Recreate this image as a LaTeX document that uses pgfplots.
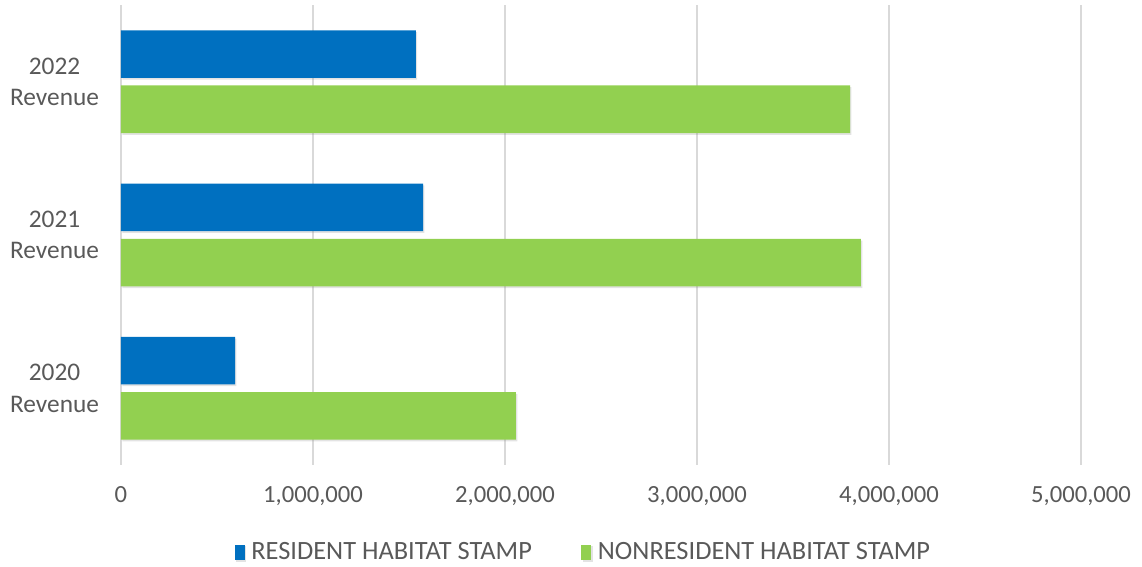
\documentclass[border=0pt]{standalone}
\usepackage{pgfplots}
\pgfplotsset{compat=1.18}
\usepackage{fontspec}
\setmainfont{Carlito}
\usetikzlibrary{shadows}
\definecolor{resblue}{HTML}{0070C0}
\definecolor{nrgreen}{HTML}{92D050}
\definecolor{gridgray}{HTML}{D9D9D9}
\definecolor{txtgray}{HTML}{595959}
\begin{document}
\begin{tikzpicture}
\useasboundingbox (-90.75pt,-76.5pt) rectangle (765.75pt,348.75pt);
\begin{axis}[
  at={(0pt,0pt)}, anchor=south west,
  scale only axis,
  width=720pt, height=345pt,
  xbar,
  xmin=0, xmax=5000000,
  ymin=-0.5, ymax=2.5,
  ytick={0,1,2},
  yticklabels={{2020\\Revenue},{2021\\Revenue},{2022\\Revenue}},
  yticklabel style={align=center, font=\fontsize{19}{23.5}\selectfont, text=txtgray, xshift=-13pt},
  xtick={0,1000000,2000000,3000000,4000000,5000000},
  scaled x ticks=false,
  xticklabel style={font=\fontsize{18.5}{22}\selectfont, text=txtgray, yshift=-12.5pt},
  /pgf/number format/.cd, fixed, 1000 sep={,}, assume math mode=true, /pgfplots/.cd,
  xmajorgrids,
  grid style={gridgray, line width=1.5pt},
  axis line style={draw=none},
  major tick length=0pt,
  bar width=0.31,
  legend style={at={(0.482,-0.19)}, anchor=center, draw=none, fill=none,
    legend columns=2, font=\fontsize{19.8}{22}\selectfont, text=txtgray,
    /tikz/every even column/.append style={column sep=35pt}},
  legend image code/.code={\fill[#1] (0pt,-5.8pt) rectangle (7.5pt,5.8pt);},
  legend cell align=left,
]
\addplot[fill=resblue, draw=none, bar shift=0.18,
  drop shadow={opacity=0.22, shadow xshift=1pt, shadow yshift=-1.3pt}]
  coordinates {(594000,0) (1573000,1) (1536000,2)};
\addplot[fill=nrgreen, draw=none, bar shift=-0.18,
  drop shadow={opacity=0.22, shadow xshift=1pt, shadow yshift=-1.3pt}]
  coordinates {(2057000,0) (3854000,1) (3797000,2)};
\legend{\hspace{3pt}RESIDENT HABITAT STAMP, \hspace{3pt}NONRESIDENT HABITAT STAMP}
\end{axis}
\end{tikzpicture}
\end{document}
